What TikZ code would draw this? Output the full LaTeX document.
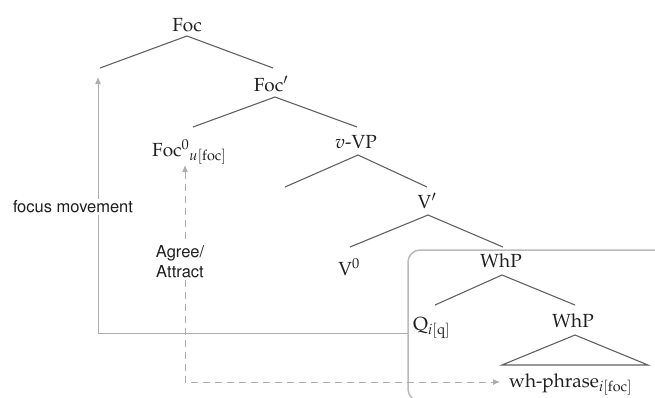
\documentclass[tikz,border=0pt]{standalone}
\usepackage[T1]{fontenc}
\usepackage{mathpazo}
\usepackage{helvet}
\usetikzlibrary{arrows.meta}
\begin{document}
\begin{tikzpicture}[x=1pt,y=-1pt,
  lab/.style={inner sep=0pt, text=black!88, font=\fontsize{19}{21}\selectfont},
  sanslab/.style={inner sep=1.5pt, fill=white, text=black!88, font=\sffamily\fontsize{16.5}{20}\selectfont, align=center},
  br/.style={draw=black!62, line width=1.1pt},
  mv/.style={draw=black!32, line width=1pt},
]
\useasboundingbox (0,0) rectangle (655,397);

% labels
\node[lab, anchor=base] (foc) at (187,31) {Foc};
\node[lab, anchor=base] (focp) at (271,91) {Foc$'$};
\node[lab, anchor=base west] (foc0) at (152,156) {Foc$^0{}_{u[\mathrm{foc}]}$};
\node[lab, anchor=base] (vvp) at (356,148) {$v$-VP};
\node[lab, anchor=base] (vp) at (427,208) {V$'$};
\node[lab, anchor=base] (v0) at (349,275) {V$^0$};
\node[lab, anchor=base] (whp1) at (501,267) {WhP};
\node[lab, anchor=base west] (q) at (413,330) {Q$_{i[\mathrm{q}]}$};
\node[lab, anchor=base] (whp2) at (573,327) {WhP};
\node[lab, anchor=base west] (wh) at (509,387) {wh-phrase$_{i[\mathrm{foc}]}$};

% branch points
\coordinate (focA) at (187,36);
\coordinate (focL) at (100,68);
\coordinate (focR) at (273,68);
\coordinate (focpA) at (275,97);
\coordinate (focpL) at (193,127);
\coordinate (focpR) at (357,127);
\coordinate (vvpA) at (358,155);
\coordinate (vvpL) at (285,187);
\coordinate (vvpR) at (427,187);
\coordinate (vpA) at (428,215);
\coordinate (vpL) at (350,247);
\coordinate (vpR) at (503,247);
\coordinate (whA) at (502,275);
\coordinate (whL) at (435,305);
\coordinate (whR) at (575,305);
\coordinate (wh2A) at (575,335);
\coordinate (triL) at (502,365);
\coordinate (triR) at (648,365);

\draw[br] (focL) -- (focA) -- (focR);
\draw[br] (focpL) -- (focpA) -- (focpR);
\draw[br] (vvpL) -- (vvpA) -- (vvpR);
\draw[br] (vpL) -- (vpA) -- (vpR);
\draw[br] (whL) -- (whA) -- (whR);
\draw[br] (triL) -- (wh2A) -- (triR) -- cycle;

% box
\begin{scope}
\clip (0,0) rectangle (655,397);
\draw[draw=black!27, line width=1.5pt, rounded corners=12pt] (408,250) rectangle (670,401);
\end{scope}

% focus movement
\coordinate (fmS) at (408,333);
\coordinate (fmE) at (98,77);
\draw[mv, -{Latex[length=7pt,width=6pt]}] (fmS) -| (fmE);
\node[sanslab] (fml) at (73,207) {focus movement};

% agree / attract
\coordinate (agT) at (185,165);
\coordinate (agR) at (500,382);
\draw[mv, dash pattern=on 7pt off 5pt, {Latex[length=7pt,width=6pt]}-{Latex[length=7pt,width=6pt]}] (agT) |- (agR);
\node[sanslab] (agl) at (180,262) {Agree/\\Attract};
\end{tikzpicture}
\end{document}
